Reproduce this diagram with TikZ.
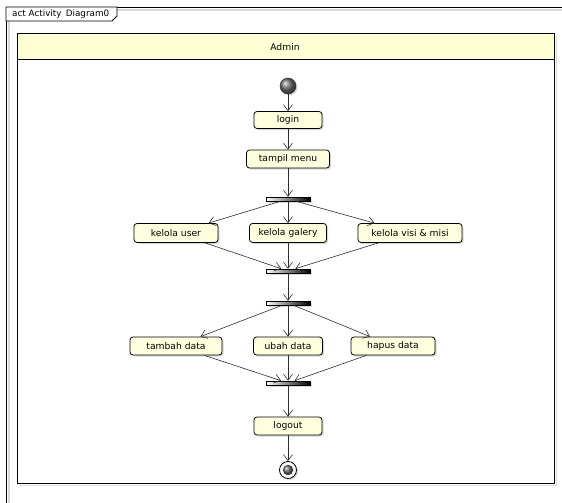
\documentclass[tikz,border=0pt]{standalone}
\usepackage{fontspec}
\setmainfont{DejaVu Sans}
\usetikzlibrary{arrows.meta,shadows}
\definecolor{actfill}{RGB}{255,255,224}
\definecolor{lanehead}{RGB}{255,255,212}
\definecolor{edgecol}{RGB}{45,45,45}
\begin{document}
\begin{tikzpicture}[x=1pt,y=-1pt,font=\fontsize{9.2}{11}\selectfont,
  actbox/.style={draw=black,line width=0.8pt,rounded corners=3pt,fill=actfill,
    minimum height=18pt,inner sep=0pt,
    drop shadow={shadow xshift=1.5pt,shadow yshift=-1.5pt,fill=black!22,opacity=0.7}},
  syncbar/.style={draw=black,line width=0.6pt,left color=white,right color=black,
    minimum width=44pt,minimum height=4pt,inner sep=0pt,
    drop shadow={shadow xshift=1.5pt,shadow yshift=-1.5pt,fill=black!22,opacity=0.7}},
  flow/.style={draw=edgecol,line width=0.6pt,-{Straight Barb[length=6pt,width=9pt,line width=0.6pt]}},
  shadowline/.style={draw=black!15,line width=1.2pt}]
\useasboundingbox (0,0) rectangle (562,503);
\fill[white] (0,0) rectangle (562,503);
% outer frame
\draw[shadowline] (9,503) -- (9,10) -- (562,10);
\draw[black,line width=0.9pt] (6,503) -- (6,7) -- (562,7);
\draw[black,line width=0.8pt,fill=white] (6,7) -- (117,7) -- (117,16) -- (112,21) -- (6,21) -- cycle;
\node[anchor=west,inner sep=0pt,font=\fontsize{8.8}{10}\selectfont] (title) at (12,14) {act Activity\, Diagram0};
% swimlane
\draw[shadowline] (20,485.5) -- (556.5,485.5) -- (556.5,36);
\fill[lanehead] (17,33) rectangle (554,59);
\draw[black,line width=0.9pt] (17,33) rectangle (554,483);
\draw[black,line width=0.9pt] (17,59) -- (554,59);
\node (lane) at (285,47) {Admin};
% nodes
\node[circle,draw=black!80,line width=0.5pt,minimum size=16pt,inner sep=0pt,shading=ball,ball color=black!55,
  drop shadow={shadow xshift=1.5pt,shadow yshift=-1.5pt,fill=black!22,opacity=0.7}] (start) at (288,86) {};
\node[actbox,minimum width=68pt,minimum height=17pt] (login) at (288,120) {login};
\node[actbox,minimum width=83pt] (menu) at (288,159) {tampil menu};
\node[syncbar] (fork1) at (288,199) {};
\node[actbox,minimum width=84pt,minimum height=19pt] (ku) at (176,233) {kelola user};
\node[actbox,minimum width=77pt,minimum height=19pt] (kg) at (288,233) {kelola galery};
\node[actbox,minimum width=104pt,minimum height=19pt] (kv) at (410,233) {kelola visi \& misi};
\node[syncbar] (join1) at (288,271) {};
\node[syncbar] (fork2) at (288,303) {};
\node[actbox,minimum width=92pt] (td) at (176,346) {tambah data};
\node[actbox,minimum width=69pt] (ud) at (288,346) {ubah data};
\node[actbox,minimum width=84pt] (hd) at (393,346) {hapus data};
\node[syncbar] (join2) at (288,383) {};
\node[actbox,minimum width=68pt] (logout) at (288,426) {logout};
\node[circle,draw=black,line width=0.8pt,fill=white,minimum size=17pt,inner sep=0pt,
  drop shadow={shadow xshift=1.5pt,shadow yshift=-1.5pt,fill=black!22,opacity=0.7}] (end) at (288,470) {};
\node[circle,minimum size=10.5pt,inner sep=0pt,shading=ball,ball color=black!60] (endcore) at (288,470) {};
% edges
\draw[flow] (start) -- (login);
\draw[flow] (login) -- (menu);
\draw[flow] (menu) -- (fork1);
\draw[flow] (fork1) -- (ku);
\draw[flow] (fork1) -- (kg);
\draw[flow] (fork1) -- (kv);
\draw[flow] (ku) -- (join1);
\draw[flow] (kg) -- (join1);
\draw[flow] (kv) -- (join1);
\draw[flow] (join1) -- (fork2);
\draw[flow] (fork2) -- (td);
\draw[flow] (fork2) -- (ud);
\draw[flow] (fork2) -- (hd);
\draw[flow] (td) -- (join2);
\draw[flow] (ud) -- (join2);
\draw[flow] (hd) -- (join2);
\draw[flow] (join2) -- (logout);
\draw[flow] (logout) -- (end);
\end{tikzpicture}
\end{document}
